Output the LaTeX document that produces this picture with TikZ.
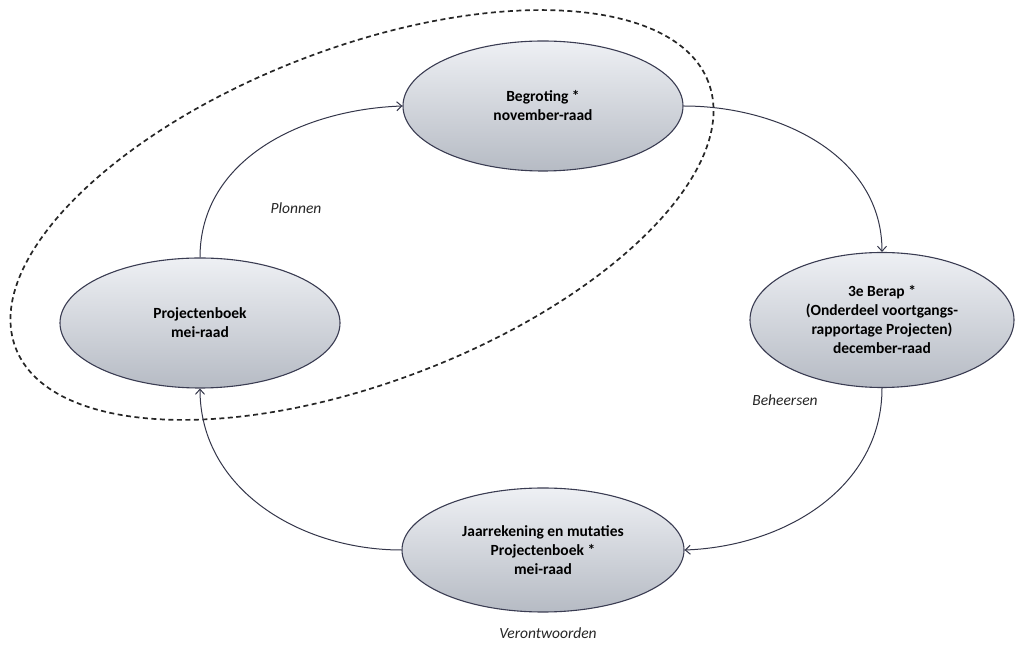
\documentclass[tikz,border=0pt]{standalone}
\usepackage{fontspec}
\setmainfont{Carlito}
\usetikzlibrary{shapes.geometric,arrows.meta}

\definecolor{cyclerim}{RGB}{58,60,82}
\definecolor{cycletop}{RGB}{238,240,244}
\definecolor{cyclebottom}{RGB}{182,187,196}

\tikzset{
    phase/.style={ellipse, draw=cyclerim, line width=1.1pt, inner sep=0pt,
        top color=cycletop, bottom color=cyclebottom,
        font=\fontsize{15.5}{19}\selectfont\bfseries, align=center},
    flow/.style={draw=cyclerim!90!black, line width=1pt,
        -{Straight Barb[length=5pt,width=9pt]}},
    stage/.style={font=\fontsize{15.5}{18}\selectfont\itshape, text=black!85}
}

\begin{document}
\begin{tikzpicture}[x=1pt, y=1pt]
                \useasboundingbox (0,0) rectangle (1015,645);
                % planning loop
                \draw[line width=1.7pt, dash pattern=on 5pt off 3.5pt, black!85]
                    (362,430) ellipse[x radius=371, y radius=167, rotate=21];
                % the four stages
                \node[phase, minimum width=280, minimum height=130] (begroting) at (543,539) {Begroting *\\november-raad};
                \node[phase, minimum width=264, minimum height=135] (berap) at (882,325) {3e Berap *\\(Onderdeel voortgangs-\\rapportage Projecten)\\december-raad};
                \node[phase, minimum width=282, minimum height=124] (jaarrekening) at (543,95) {Jaarrekening en mutaties\\Projectenboek *\\mei-raad};
                \node[phase, minimum width=280, minimum height=130] (projectenboek) at (200,322) {Projectenboek\\mei-raad};
                \draw[flow] (projectenboek.north) to[out=90, in=182] (begroting.west);
                \draw[flow] (begroting.east) to[out=0, in=90] (berap.north);
                \draw[flow] (berap.south) to[out=-90, in=2] (jaarrekening.east);
                \draw[flow] (jaarrekening.west) to[out=180, in=-90] (projectenboek.south);
                \node[stage] (plannen) at (296,437) {Plonnen};
                \node[stage] (beheersen) at (785,245) {Beheersen};
                \node[stage] (verantwoorden) at (548,12) {Verontwoorden};
            \end{tikzpicture}
\end{document}
